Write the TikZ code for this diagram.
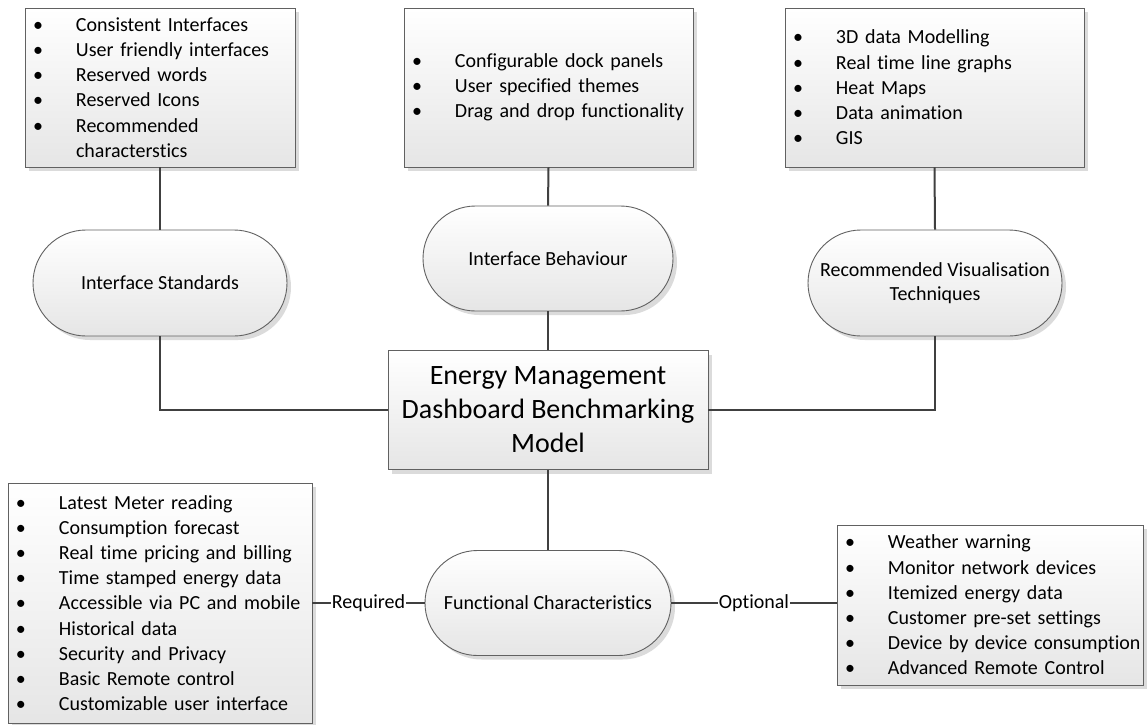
\documentclass[tikz,border=0pt]{standalone}
\usepackage{fontspec}
\setmainfont{Carlito}[Ligatures=NoCommon]
\usetikzlibrary{shapes.misc,shadows}

% one list line: bullet in its own column, text in a second column
\newcommand\bul[1]{\mbox{\makebox[43pt][l]{\textbullet}#1}}
\newcommand\cont[1]{\mbox{\hspace*{43pt}#1}}

\tikzset{
  shade box/.style={draw=black!62, line width=0.9pt,
    top color=white, bottom color=black!10,
    general shadow={fill=black!14, shadow xshift=4pt, shadow yshift=-4pt}},
  listbox/.style={shade box, rectangle, inner xsep=8pt, inner ysep=0pt,
    align=left, font=\fontsize{20}{25.2}\selectfont,
    text width=#1-16pt, minimum width=#1},
  topic/.style={shade box, rounded rectangle, rounded rectangle arc length=180,
    align=center, font=\fontsize{20}{24}\selectfont, inner sep=0pt},
  hub/.style={shade box, rectangle, align=center,
    font=\fontsize{28}{34}\selectfont, inner sep=0pt},
  link/.style={draw=black!75, line width=2pt},
  tag/.style={fill=white, inner xsep=0.5pt, inner ysep=2pt,
    font=\fontsize{20}{24}\selectfont},
}

\begin{document}
\begin{tikzpicture}[x=1pt, y=-1pt]
\useasboundingbox (0,0) rectangle (1148,725);

% ---- list boxes along the top ----
\node[listbox=270pt, minimum height=159pt] (std) at (160,87.5) {%
  \bul{Consistent Interfaces}\\
  \bul{User friendly interfaces}\\
  \bul{Reserved words}\\
  \bul{Reserved Icons}\\
  \bul{Recommended}\\
  \cont{characterstics}};

\node[listbox=289pt, minimum height=159pt] (beh) at (548.5,87.5) {%
  \bul{Configurable dock panels}\\
  \bul{User specified themes}\\
  \bul{Drag and drop functionality}};

\node[listbox=299pt, minimum height=159pt] (vis) at (934.5,87.5) {%
  \bul{3D data Modelling}\\
  \bul{Real time line graphs}\\
  \bul{Heat Maps}\\
  \bul{Data animation}\\
  \bul{GIS}};

% ---- topic terminators ----
\node[topic, minimum width=254pt, minimum height=106pt] (ist) at (160,283) {Interface Standards};
\node[topic, minimum width=250pt, minimum height=105pt] (ibh) at (548,258.5) {Interface Behaviour};
\node[topic, minimum width=254pt, minimum height=106pt] (rvt) at (935,283) {Recommended Visualisation\\Techniques};

% ---- central model ----
\node[hub, minimum width=320pt, minimum height=119pt] (model) at (548,410)
  {Energy Management\\Dashboard Benchmarking\\Model};

\node[topic, minimum width=246pt, minimum height=105pt] (fun) at (548,603) {Functional Characteristics};

% ---- list boxes along the bottom ----
\node[listbox=304pt, minimum height=240pt] (req) at (160,603) {%
  \bul{Latest Meter reading}\\
  \bul{Consumption forecast}\\
  \bul{Real time pricing and billing}\\
  \bul{Time stamped energy data}\\
  \bul{Accessible via PC and mobile}\\
  \bul{Historical data}\\
  \bul{Security and Privacy}\\
  \bul{Basic Remote control}\\
  \bul{Customizable user interface}};

\node[listbox=306pt, minimum height=160pt] (opt) at (990,605) {%
  \bul{Weather warning}\\
  \bul{Monitor network devices}\\
  \bul{Itemized energy data}\\
  \bul{Customer pre-set settings}\\
  \bul{Device by device consumption}\\
  \bul{Advanced Remote Control}};

% ---- connectors ----
\draw[link] (std.south) -- (ist.north);
\draw[link] (beh.south) -- (ibh.north);
\draw[link] (vis.south) -- (rvt.north);
\draw[link] (ist.south) |- (model.west);
\draw[link] (rvt.south) |- (model.east);
\draw[link] (ibh.south) -- (model.north);
\draw[link] (model.south) -- (fun.north);
\draw[link] (req.east) -- node[tag] {Required} (fun.west);
\draw[link] (fun.east) -- node[tag] {Optional} (opt.west |- fun.east);
\end{tikzpicture}
\end{document}
